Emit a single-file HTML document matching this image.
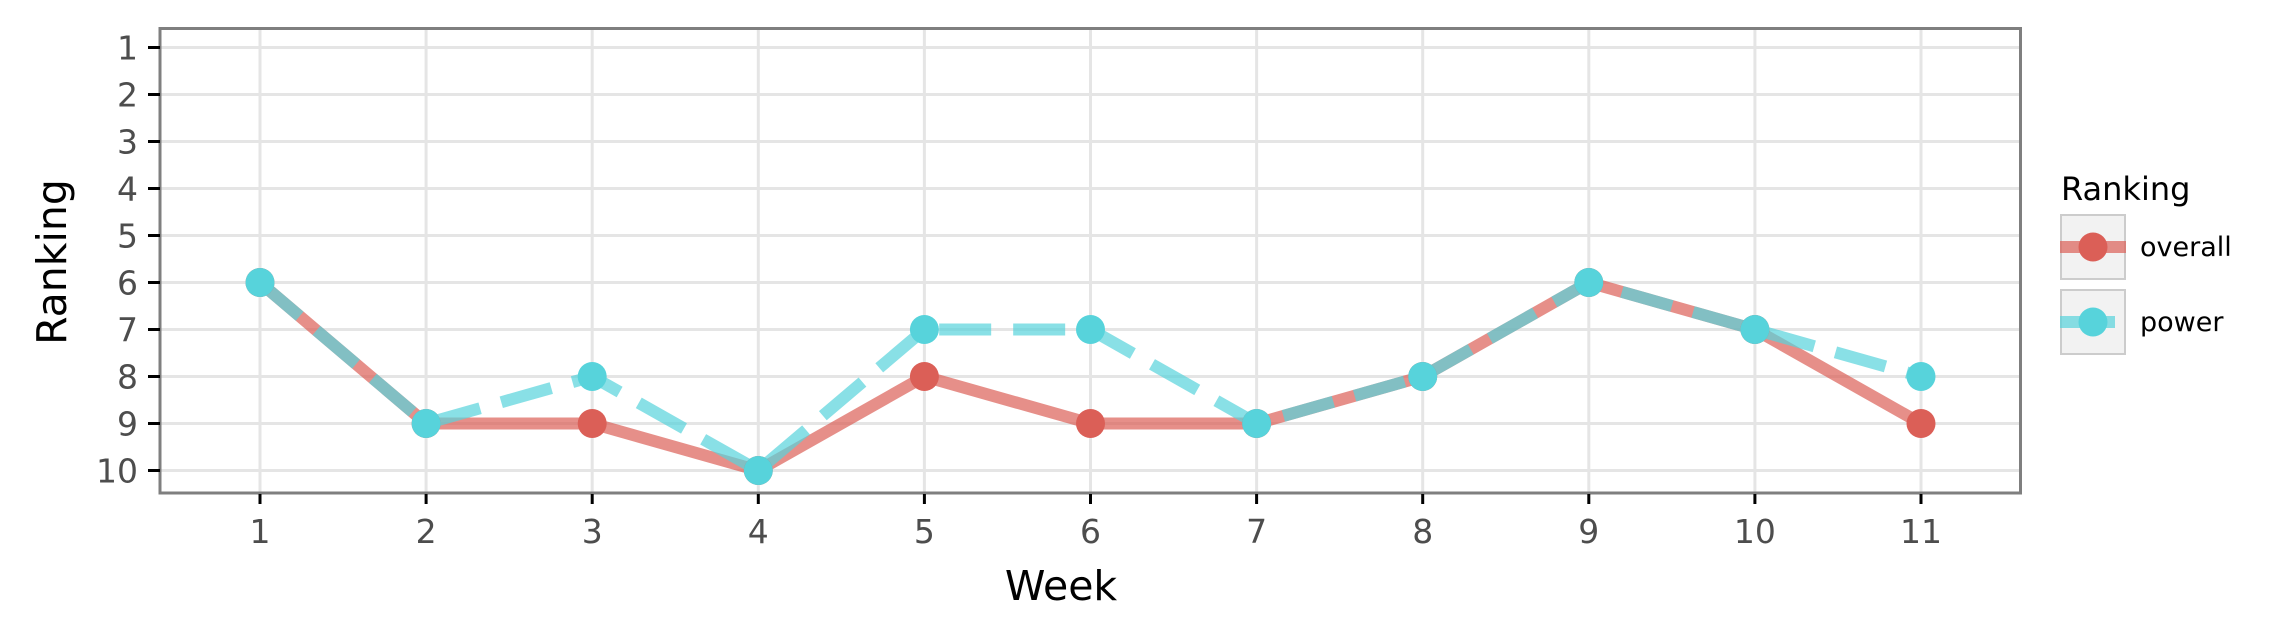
<!DOCTYPE html>
<html><head><meta charset="utf-8">
<style>
html,body{margin:0;padding:0;background:#fff;}
svg{display:block;font-family:"DejaVu Sans","Liberation Sans",sans-serif;}
</style></head>
<body>
<svg id="chart" width="2276" height="641" viewBox="0 0 2276 641">
<g id="grid"></g>
<g id="series"></g>
<rect x="160" y="28.5" width="1860.5" height="464.5" fill="none" stroke="#7f7f7f" stroke-width="3"/>
<g id="axes"></g>
<text x="66" y="262" font-size="41" fill="#000" text-anchor="middle" transform="rotate(-90 66 262)">Ranking</text>
<text x="1061" y="600" font-size="41" fill="#000" text-anchor="middle">Week</text>
<g>
<text x="2061" y="200" font-size="32" fill="#000">Ranking</text>
<g>
<rect x="2061" y="215" width="64" height="64" fill="#f2f2f2" stroke="#cccccc" stroke-width="2"/>
<line x1="2060" y1="247" x2="2126" y2="247" stroke="#db5f57" stroke-opacity="0.7" stroke-width="12"/>
<circle cx="2093" cy="247" r="14.5" fill="#db5f57"/>
<text x="2140" y="256" font-size="27" fill="#000">overall</text>
</g>
<g>
<rect x="2061" y="290" width="64" height="64" fill="#f2f2f2" stroke="#cccccc" stroke-width="2"/>
<line x1="2060" y1="322" x2="2115" y2="322" stroke="#57d3db" stroke-opacity="0.7" stroke-width="12"/>
<circle cx="2093" cy="322" r="14.5" fill="#57d3db"/>
<text x="2140" y="331" font-size="27" fill="#000">power</text>
</g>
</g>
</svg>
<script>
const weeks = [1,2,3,4,5,6,7,8,9,10,11];
const overall = [6,9,9,10,8,9,9,8,6,7,9];
const power = [6,9,8,10,7,7,9,8,6,7,8];
const yTicks = [1,2,3,4,5,6,7,8,9,10];
const xTicks = [1,2,3,4,5,6,7,8,9,10,11];

const NS = "http://www.w3.org/2000/svg";
function xs(v){ return 260 + (v-1)*166.1; }
function ys(v){ return 47.5 + (v-1)*47; }
function mk(tag, attrs, parent){
  const e = document.createElementNS(NS, tag);
  for (const k in attrs) e.setAttribute(k, attrs[k]);
  parent.appendChild(e); return e;
}
const grid = document.getElementById('grid');
const axes = document.getElementById('axes');
const series = document.getElementById('series');

yTicks.forEach(t=>{
  const g = mk('line',{x1:161,x2:2019,y1:ys(t),y2:ys(t),stroke:'#e5e5e5','stroke-width':3},grid);
  
  
  const tk = mk('line',{x1:148,x2:160,y1:ys(t),y2:ys(t),stroke:'#000','stroke-width':3},axes);
  
  
  const lb = mk('text',{x:138,y:ys(t)+12,'font-size':33,fill:'#4d4d4d','text-anchor':'end'},axes);
  lb.textContent = t;
  
  
});
xTicks.forEach(t=>{
  const g = mk('line',{x1:xs(t),x2:xs(t),y1:30,y2:492,stroke:'#e5e5e5','stroke-width':3},grid);
  
  
  const tk = mk('line',{x1:xs(t),x2:xs(t),y1:494,y2:504,stroke:'#000','stroke-width':3},axes);
  
  
  const lb = mk('text',{x:xs(t),y:543,'font-size':33,fill:'#4d4d4d','text-anchor':'middle'},axes);
  lb.textContent = t;
  
  
});

function drawSeries(vals, color, dash, name){
  const pts = vals.map((v,i)=>xs(weeks[i])+','+ys(v)).join(' ');
  const pl = mk('polyline',{points:pts,fill:'none',stroke:color,'stroke-opacity':0.7,'stroke-width':12,'stroke-linejoin':'round'},series);
  if (dash) pl.setAttribute('stroke-dasharray', dash);
  
  
}
function drawPoints(vals, color, name){
  vals.forEach((v,i)=>{
    const c = mk('circle',{cx:xs(weeks[i]),cy:ys(v),r:14.5,fill:color},series);
    
    
  });
}
drawSeries(overall,'#db5f57',null,'overall');
drawSeries(power,'#57d3db','52 22','power');
drawPoints(overall,'#db5f57','overall');
drawPoints(power,'#57d3db','power');
</script>
</body></html>
